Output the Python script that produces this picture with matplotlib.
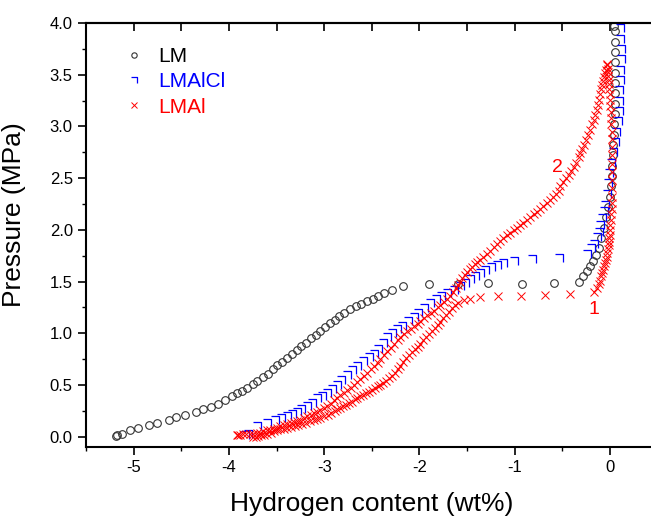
import matplotlib.pyplot as plt
import numpy as np
from matplotlib.path import Path
from matplotlib.ticker import MultipleLocator

plt.rcParams['font.family'] = ['Liberation Sans', 'DejaVu Sans']
plt.rcParams['axes.unicode_minus'] = False

# === Data ===
lm_x = [-5.19, -5.17, -5.12, -5.04, -4.95, -4.84, -4.75, -4.63, -4.55, -4.46,
        -4.35, -4.27, -4.19, -4.11, -4.04, -3.97, -3.92, -3.86, -3.81, -3.75,
        -3.70, -3.64, -3.59, -3.54, -3.49, -3.44, -3.39, -3.34, -3.29, -3.24,
        -3.19, -3.14, -3.09, -3.04, -2.99, -2.94, -2.89, -2.84, -2.79, -2.73,
        -2.67, -2.61, -2.55, -2.49, -2.43, -2.37, -2.29, -2.17, -1.90, -1.60,
        -1.28, -0.92, -0.59, -0.32, -0.28, -0.24, -0.21, -0.18, -0.15, -0.12,
        -0.09, -0.06, -0.04, -0.02, 0.0, 0.01, 0.02, 0.025, 0.03, 0.035,
        0.04, 0.045, 0.05, 0.05, 0.055, 0.055, 0.055, 0.05, 0.05, 0.05,
        0.05, 0.04]
lm_y = [0.01, 0.02, 0.03, 0.06, 0.08, 0.11, 0.13, 0.16, 0.19, 0.21,
        0.24, 0.27, 0.29, 0.32, 0.35, 0.39, 0.42, 0.44, 0.47, 0.51,
        0.54, 0.58, 0.61, 0.65, 0.69, 0.72, 0.76, 0.80, 0.84, 0.88,
        0.91, 0.95, 0.98, 1.02, 1.06, 1.10, 1.13, 1.17, 1.20, 1.23,
        1.26, 1.28, 1.31, 1.33, 1.36, 1.39, 1.42, 1.46, 1.48, 1.48,
        1.49, 1.48, 1.49, 1.50, 1.55, 1.60, 1.65, 1.70, 1.76, 1.82,
        1.92, 2.02, 2.12, 2.22, 2.32, 2.42, 2.52, 2.62, 2.72, 2.82,
        2.92, 3.02, 3.12, 3.22, 3.32, 3.42, 3.52, 3.62, 3.72, 3.82,
        3.92, 3.97]

lmalcl_x = [-3.83, -3.80, -3.71, -3.60, -3.52, -3.45, -3.39, -3.34, -3.29, -3.24,
            -3.18, -3.13, -3.08, -3.02, -2.97, -2.92, -2.87, -2.82, -2.76, -2.71,
            -2.65, -2.59, -2.53, -2.48, -2.43, -2.38, -2.34, -2.29, -2.24, -2.18,
            -2.12, -2.06, -2.01, -1.95, -1.89, -1.83, -1.77, -1.71, -1.64, -1.57,
            -1.52, -1.47, -1.42, -1.36, -1.31, -1.25, -1.19, -1.12, -1.01, -0.82,
            -0.54, -0.24, -0.20, -0.17, -0.14, -0.12, -0.10, -0.08, -0.06, -0.05,
            -0.03, -0.02, -0.01, 0.01, 0.03, 0.05, 0.06, 0.08, 0.09, 0.10,
            0.10, 0.11, 0.11, 0.12, 0.12, 0.11, 0.11]
lmalcl_y = [0.02, 0.03, 0.10, 0.13, 0.16, 0.18, 0.20, 0.22, 0.24, 0.27,
            0.30, 0.33, 0.37, 0.39, 0.42, 0.46, 0.50, 0.55, 0.60, 0.64,
            0.68, 0.73, 0.77, 0.80, 0.85, 0.91, 0.96, 1.00, 1.04, 1.07,
            1.12, 1.16, 1.20, 1.24, 1.29, 1.33, 1.36, 1.39, 1.42, 1.46,
            1.49, 1.52, 1.55, 1.58, 1.61, 1.64, 1.66, 1.68, 1.70, 1.72,
            1.73, 1.77, 1.82, 1.86, 1.93, 1.98, 2.05, 2.11, 2.18, 2.24,
            2.35, 2.45, 2.55, 2.65, 2.75, 2.85, 2.95, 3.05, 3.15, 3.25,
            3.35, 3.45, 3.55, 3.65, 3.75, 3.85, 3.95]

# LMAl, branch 1 (lower curve, plateau, right column)
lmal1_x = [-3.75, -3.72, -3.69, -3.66, -3.63, -3.60, -3.56, -3.53, -3.49, -3.46,
           -3.42, -3.39, -3.35, -3.31, -3.27, -3.23, -3.19, -3.15, -3.11, -3.08,
           -3.04, -3.00, -2.96, -2.93, -2.89, -2.86, -2.83, -2.80, -2.77, -2.74,
           -2.71, -2.68, -2.65, -2.62, -2.59, -2.56, -2.53, -2.50, -2.47, -2.44,
           -2.41, -2.38, -2.35, -2.32, -2.29, -2.26, -2.23, -2.20, -2.17, -2.14,
           -2.11, -2.08, -2.05, -2.02, -1.99, -1.96, -1.93, -1.90, -1.87, -1.84,
           -1.81, -1.78, -1.75, -1.72, -1.69, -1.66, -1.63, -1.60, -1.53, -1.47,
           -1.36, -1.17, -0.93, -0.68, -0.42, -0.17, -0.14, -0.12, -0.10, -0.09,
           -0.08, -0.07, -0.06, -0.05, -0.04, -0.035, -0.03, -0.02, -0.015, -0.01,
           -0.005, 0.0, 0.0, 0.005, 0.01, 0.015, 0.02, 0.02, 0.02, 0.02,
           0.02, 0.02, 0.02, 0.02, 0.02, 0.02, 0.02, 0.015, 0.01, 0.01,
           0.005, 0.0, 0.0, -0.005, -0.01, -0.015, -0.02, -0.02, -0.025, -0.03]
lmal1_y = [0.00, 0.00, 0.01, 0.02, 0.02, 0.03, 0.04, 0.05, 0.06, 0.07,
           0.07, 0.08, 0.09, 0.10, 0.11, 0.12, 0.13, 0.15, 0.16, 0.17,
           0.18, 0.20, 0.21, 0.23, 0.25, 0.27, 0.28, 0.30, 0.31, 0.33,
           0.34, 0.36, 0.37, 0.39, 0.40, 0.42, 0.43, 0.45, 0.47, 0.49,
           0.50, 0.52, 0.54, 0.57, 0.59, 0.62, 0.65, 0.68, 0.72, 0.76,
           0.79, 0.82, 0.85, 0.87, 0.90, 0.93, 0.96, 0.99, 1.02, 1.05,
           1.08, 1.11, 1.15, 1.18, 1.21, 1.24, 1.27, 1.29, 1.32, 1.33,
           1.35, 1.36, 1.36, 1.37, 1.38, 1.40, 1.44, 1.48, 1.51, 1.55,
           1.58, 1.61, 1.65, 1.68, 1.71, 1.74, 1.78, 1.81, 1.85, 1.88,
           1.92, 1.95, 2.00, 2.05, 2.10, 2.15, 2.20, 2.26, 2.32, 2.40,
           2.48, 2.56, 2.64, 2.72, 2.80, 2.88, 2.95, 3.02, 3.08, 3.14,
           3.20, 3.26, 3.31, 3.36, 3.41, 3.45, 3.49, 3.53, 3.56, 3.59]

# LMAl, branch 2 (upper curve to the top)
lmal2_x = [-3.92, -3.90, -3.88, -3.85, -3.82, -3.78, -3.75, -3.71, -3.67, -3.64,
           -3.60, -3.57, -3.53, -3.50, -3.46, -3.42, -3.39, -3.35, -3.32, -3.28,
           -3.25, -3.21, -3.18, -3.14, -3.11, -3.07, -3.04, -3.00, -2.97, -2.93,
           -2.90, -2.86, -2.83, -2.79, -2.76, -2.72, -2.69, -2.65, -2.62, -2.58,
           -2.55, -2.51, -2.48, -2.44, -2.41, -2.37, -2.34, -2.30, -2.27, -2.23,
           -2.20, -2.16, -2.13, -2.09, -2.06, -2.02, -1.99, -1.95, -1.92, -1.88,
           -1.85, -1.81, -1.78, -1.74, -1.71, -1.68, -1.65, -1.62, -1.60, -1.57,
           -1.55, -1.52, -1.50, -1.47, -1.45, -1.42, -1.40, -1.36, -1.33, -1.29,
           -1.26, -1.22, -1.19, -1.15, -1.12, -1.08, -1.05, -1.01, -0.98, -0.94,
           -0.91, -0.87, -0.84, -0.80, -0.77, -0.73, -0.70, -0.66, -0.63, -0.60,
           -0.57, -0.54, -0.52, -0.49, -0.46, -0.43, -0.41, -0.38, -0.36, -0.33,
           -0.31, -0.29, -0.27, -0.25, -0.23, -0.21, -0.19, -0.17, -0.16, -0.14,
           -0.13, -0.11, -0.10, -0.09, -0.08, -0.07, -0.06, -0.05, -0.04, -0.035]
lmal2_y = [0.02, 0.02, 0.02, 0.03, 0.03, 0.03, 0.03, 0.04, 0.04, 0.05,
           0.06, 0.06, 0.07, 0.08, 0.10, 0.11, 0.12, 0.13, 0.14, 0.15,
           0.16, 0.18, 0.20, 0.21, 0.23, 0.24, 0.26, 0.28, 0.30, 0.32,
           0.35, 0.37, 0.40, 0.42, 0.45, 0.47, 0.50, 0.53, 0.56, 0.59,
           0.62, 0.65, 0.68, 0.71, 0.75, 0.79, 0.83, 0.86, 0.90, 0.93,
           0.96, 0.99, 1.02, 1.04, 1.07, 1.09, 1.12, 1.15, 1.18, 1.20,
           1.22, 1.25, 1.27, 1.30, 1.33, 1.36, 1.40, 1.44, 1.47, 1.50,
           1.53, 1.56, 1.59, 1.62, 1.64, 1.67, 1.69, 1.71, 1.74, 1.77,
           1.80, 1.83, 1.86, 1.89, 1.92, 1.95, 1.97, 2.00, 2.02, 2.05,
           2.07, 2.10, 2.12, 2.15, 2.17, 2.20, 2.23, 2.26, 2.29, 2.32,
           2.35, 2.38, 2.42, 2.46, 2.50, 2.53, 2.57, 2.61, 2.65, 2.70,
           2.74, 2.78, 2.82, 2.87, 2.92, 2.97, 3.02, 3.06, 3.11, 3.16,
           3.21, 3.26, 3.31, 3.36, 3.40, 3.44, 3.48, 3.52, 3.55, 3.60]

# === Setup Plot ===
fig = plt.figure(figsize=(6.51, 5.16), dpi=100)
ax = fig.add_axes([0.1321, 0.1337, 0.878, 0.8217])

# half-square marker used for LMAlCl
hook = Path([(-1, 1), (1, 1), (1, -1)], [Path.MOVETO, Path.LINETO, Path.LINETO])

ax.plot(lm_x, lm_y, ls='none', marker='o', ms=5.5, mfc='none', mec='#333333',
        mew=0.8, color='black', label='LM')
ax.plot(lmalcl_x, lmalcl_y, ls='none', marker=hook, ms=5.5, mfc='none', mec='blue',
        mew=0.9, color='blue', label='LMAlCl')
ax.plot(lmal1_x, lmal1_y, ls='none', marker='x', ms=6, mec='red', mew=0.7,
        color='red', label='LMAl')
ax.plot(lmal2_x, lmal2_y, ls='none', marker='x', ms=6, mec='red', mew=0.7,
        color='red')

# === Branch labels ===
ax.text(-0.556, 2.60, '2', color='red', fontsize=14, ha='center', va='center')
ax.text(-0.168, 1.23, '1', color='red', fontsize=14, ha='center', va='center')

# === Legend ===
ax.legend(loc='upper left', bbox_to_anchor=(0.065, 0.943), frameon=False,
          fontsize=15, markerscale=0.7, handlelength=1.0, handletextpad=0.7,
          labelspacing=0.3, borderpad=0, borderaxespad=0, labelcolor='linecolor')

# === Axes ===
ax.set_xlim(-5.5, 0.5)
ax.set_ylim(-0.1, 4.0)
ax.set_xlabel('Hydrogen content (wt%)', fontsize=19, labelpad=12)
ax.set_ylabel('Pressure (MPa)', fontsize=19)
ax.yaxis.set_label_coords(-0.105, 0.547)

ax.xaxis.set_major_locator(MultipleLocator(1))
ax.xaxis.set_minor_locator(MultipleLocator(0.5))
ax.yaxis.set_minor_locator(MultipleLocator(0.25))
ax.set_yticks(np.arange(0, 4.01, 0.5))
ax.set_yticklabels([f"{v:.1f}" for v in np.arange(0, 4.01, 0.5)])
ax.tick_params(which='major', direction='out', length=6, width=1.2, labelsize=12)
ax.tick_params(which='minor', direction='out', length=3, width=1.0)
ax.tick_params(top=False, right=False)

top = ax.secondary_xaxis('top')
top.xaxis.set_major_locator(MultipleLocator(0.5))
top.tick_params(direction='in', length=6, width=1.2, labeltop=False)

for side in ['left', 'bottom', 'top']:
    ax.spines[side].set_linewidth(1.5)
top.spines['top'].set_linewidth(1.5)
ax.spines['right'].set_visible(False)

plt.savefig('out.png', dpi=100)
